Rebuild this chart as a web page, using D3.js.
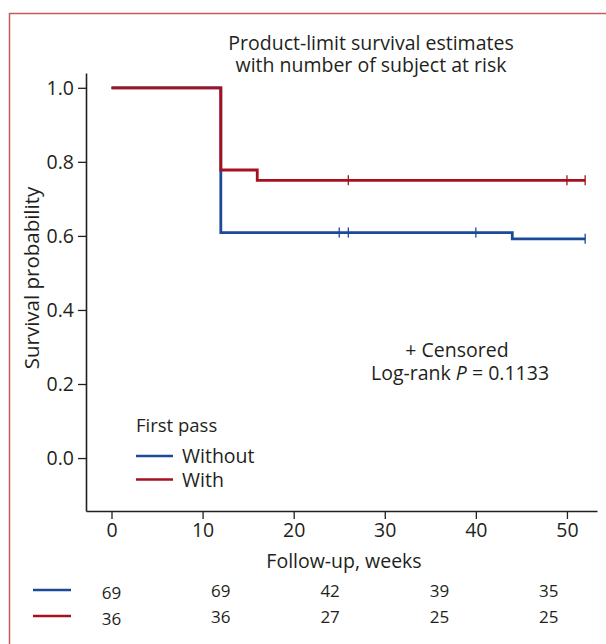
<!DOCTYPE html>
<html><head><meta charset="utf-8">
<script src="https://cdn.jsdelivr.net/npm/d3@7"></script>
<style>body{margin:0;background:#fff}svg{display:block}text{font-family:"Open Sans",sans-serif;fill:#231f20}</style>
</head><body><svg id="c" width="606" height="644"></svg>
<script>
// Data
const groups = ["Without", "With"];
const colors = ["#1b4a98", "#a7101f"];
// step curves: [time, survival]
const withoutSteps = [[0,1.0],[12,0.609],[44,0.592],[52,0.592]];
const withSteps = [[0,1.0],[12,0.778],[16,0.75],[52,0.75]];
const withoutCensor = [25,26,40,52];
const withCensor = [26,50,52];
const xTicks = [0,10,20,30,40,50];
const yTicks = [0.0,0.2,0.4,0.6,0.8,1.0];
const riskTimes = [0,12,24,36,48];
const riskWithout = [69,69,42,39,35];
const riskWith = [36,36,27,25,25];

const FS = 19.5;
const svg = d3.select("#c");
svg.append("rect").attr("x",9.5).attr("y",13.5).attr("width",620).attr("height",640)
  .attr("fill","none").attr("stroke","#c9595d").attr("stroke-width",1.5);

const x = d3.scaleLinear().domain([-2.8,53.3]).range([86,597]);
const y = d3.scaleLinear().domain([-0.143,1.04]).range([511,73]);

// axes
const gx = svg.append("g").attr("transform","translate(0,511)")
  .call(d3.axisBottom(x).tickValues(xTicks).tickSize(8).tickSizeOuter(0).tickPadding(4));
const gy = svg.append("g").attr("transform","translate(86,0)")
  .call(d3.axisLeft(y).tickValues(yTicks).tickFormat(d3.format(".1f")).tickSize(8).tickSizeOuter(0).tickPadding(4));
[gx,gy].forEach(g=>{
  g.select(".domain").attr("stroke","#231f20").attr("stroke-width",1.6);
  g.selectAll(".tick line").attr("stroke","#231f20").attr("stroke-width",1.3);
  g.selectAll(".tick text").attr("font-size",FS).attr("fill","#231f20").attr("font-family","'Open Sans',sans-serif");
});

// curves
const line = d3.line().x(d=>x(d[0])).y(d=>y(d[1])).curve(d3.curveStepAfter);
function surv(steps,t){let v=steps[0][1];steps.forEach(s=>{if(s[0]<=t)v=s[1];});return v;}
[[withoutSteps,withoutCensor,0],[withSteps,withCensor,1]].forEach(([steps,cens,i])=>{
  svg.append("path").datum(steps).attr("d",line).attr("fill","none")
    .attr("stroke",colors[i]).attr("stroke-width",2.8).attr("stroke-linejoin","miter");
  svg.selectAll(null).data(cens).enter().append("line")
    .attr("x1",d=>x(d)).attr("x2",d=>x(d))
    .attr("y1",d=>y(surv(steps,d))-5).attr("y2",d=>y(surv(steps,d))+5)
    .attr("stroke",colors[i]).attr("stroke-width",1.3);
});

// title
svg.append("text").attr("x",371).attr("y",50).attr("text-anchor","middle").attr("font-size",FS).text("Product-limit survival estimates");
svg.append("text").attr("x",371).attr("y",72).attr("text-anchor","middle").attr("font-size",FS).text("with number of subject at risk");

// axis labels
svg.append("text").attr("transform","translate(39,278) rotate(-90)").attr("text-anchor","middle").attr("font-size",20.5).text("Survival probability");
svg.append("text").attr("x",344).attr("y",568).attr("text-anchor","middle").attr("font-size",FS).text("Follow-up, weeks");

// annotation
svg.append("text").attr("x",457).attr("y",357).attr("text-anchor","middle").attr("font-size",FS).text("+ Censored");
const lr = svg.append("text").attr("x",460).attr("y",380).attr("text-anchor","middle").attr("font-size",FS);
lr.append("tspan").text("Log-rank ");
lr.append("tspan").attr("font-style","italic").text("P");
lr.append("tspan").text(" = 0.1133");

// legend
svg.append("text").attr("x",136).attr("y",432).attr("font-size",18.5).text("First pass");
groups.forEach((g,i)=>{
  const yy = 456 + i*23.5;
  svg.append("line").attr("x1",136).attr("x2",173).attr("y1",yy).attr("y2",yy).attr("stroke",colors[i]).attr("stroke-width",2.6);
  svg.append("text").attr("x",182).attr("y",yy+7).attr("font-size",FS).text(g);
});

// risk table
[riskWithout,riskWith].forEach((row,i)=>{
  const yy = 590 + i*26;
  svg.append("line").attr("x1",33).attr("x2",71).attr("y1",yy).attr("y2",yy).attr("stroke",colors[i]).attr("stroke-width",2.6);
  svg.selectAll(null).data(row).enter().append("text")
    .attr("x",(d,j)=>x(riskTimes[j])).attr("y",(d,j)=>yy+(j===0?9:7))
    .attr("text-anchor","middle").attr("font-size",17).text(d=>d);
});
</script></body></html>
